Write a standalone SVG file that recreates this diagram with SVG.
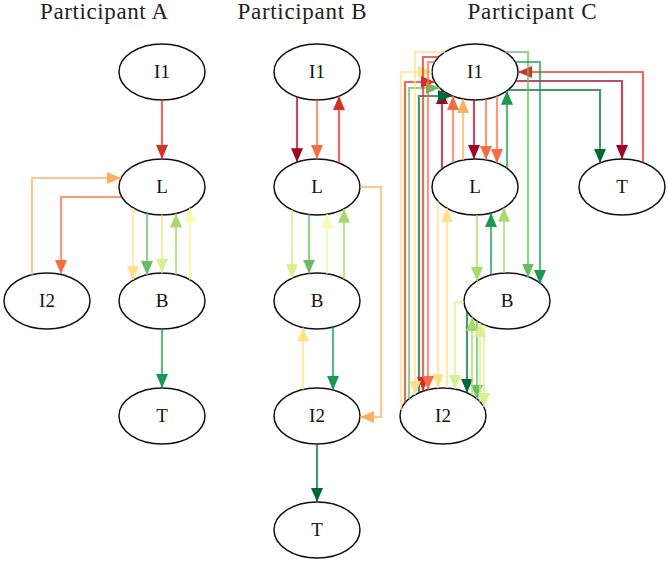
<svg xmlns="http://www.w3.org/2000/svg" width="668" height="564" viewBox="0 0 668 564">
<style>
.t{font-family:"Liberation Serif",serif;font-size:23px;fill:#222;text-anchor:middle}
.n ellipse{fill:#fff;stroke:#111;stroke-width:1.5}
.n text{font-family:"Liberation Serif",serif;font-size:19px;fill:#111;text-anchor:middle}
.e path{fill:none;stroke-width:2.2;stroke-opacity:.7}
.k1{stroke:#a50026;marker-end:url(#m1)}
.k2{stroke:#d73027;marker-end:url(#m2)}
.k3{stroke:#f46d43;marker-end:url(#m3)}
.k4{stroke:#fdae61;marker-end:url(#m4)}
.k5{stroke:#fee08b;marker-end:url(#m5)}
.k6{stroke:#f5f59a;marker-end:url(#m6)}
.k7{stroke:#d9ef8b;marker-end:url(#m7)}
.k8{stroke:#a6d96a;marker-end:url(#m8)}
.k9{stroke:#66bd63;marker-end:url(#m9)}
.k10{stroke:#1a9850;marker-end:url(#m10)}
.k11{stroke:#006837;marker-end:url(#m11)}
</style>
<defs>
<marker id="m1" viewBox="0 0 14 12" refX="14" refY="6" markerWidth="14" markerHeight="12" markerUnits="userSpaceOnUse" orient="auto"><path d="M0,0L14,6L0,12z" fill="#a50026"/></marker>
<marker id="m2" viewBox="0 0 14 12" refX="14" refY="6" markerWidth="14" markerHeight="12" markerUnits="userSpaceOnUse" orient="auto"><path d="M0,0L14,6L0,12z" fill="#d73027"/></marker>
<marker id="m3" viewBox="0 0 14 12" refX="14" refY="6" markerWidth="14" markerHeight="12" markerUnits="userSpaceOnUse" orient="auto"><path d="M0,0L14,6L0,12z" fill="#f46d43"/></marker>
<marker id="m4" viewBox="0 0 14 12" refX="14" refY="6" markerWidth="14" markerHeight="12" markerUnits="userSpaceOnUse" orient="auto"><path d="M0,0L14,6L0,12z" fill="#fdae61"/></marker>
<marker id="m5" viewBox="0 0 14 12" refX="14" refY="6" markerWidth="14" markerHeight="12" markerUnits="userSpaceOnUse" orient="auto"><path d="M0,0L14,6L0,12z" fill="#fee08b"/></marker>
<marker id="m6" viewBox="0 0 14 12" refX="14" refY="6" markerWidth="14" markerHeight="12" markerUnits="userSpaceOnUse" orient="auto"><path d="M0,0L14,6L0,12z" fill="#fbfbb0"/></marker>
<marker id="m7" viewBox="0 0 14 12" refX="14" refY="6" markerWidth="14" markerHeight="12" markerUnits="userSpaceOnUse" orient="auto"><path d="M0,0L14,6L0,12z" fill="#d9ef8b"/></marker>
<marker id="m8" viewBox="0 0 14 12" refX="14" refY="6" markerWidth="14" markerHeight="12" markerUnits="userSpaceOnUse" orient="auto"><path d="M0,0L14,6L0,12z" fill="#a6d96a"/></marker>
<marker id="m9" viewBox="0 0 14 12" refX="14" refY="6" markerWidth="14" markerHeight="12" markerUnits="userSpaceOnUse" orient="auto"><path d="M0,0L14,6L0,12z" fill="#66bd63"/></marker>
<marker id="m10" viewBox="0 0 14 12" refX="14" refY="6" markerWidth="14" markerHeight="12" markerUnits="userSpaceOnUse" orient="auto"><path d="M0,0L14,6L0,12z" fill="#1a9850"/></marker>
<marker id="m11" viewBox="0 0 14 12" refX="14" refY="6" markerWidth="14" markerHeight="12" markerUnits="userSpaceOnUse" orient="auto"><path d="M0,0L14,6L0,12z" fill="#006837"/></marker>
</defs>
<rect width="668" height="564" fill="#fff"/>
<text class="t" x="104" y="19" textLength="128" lengthAdjust="spacing">Participant A</text>
<text class="t" x="302" y="19" textLength="129" lengthAdjust="spacing">Participant B</text>
<text class="t" x="532" y="19" textLength="129" lengthAdjust="spacing">Participant C</text>

<g id="A_I1" class="n"><ellipse cx="162" cy="72" rx="43" ry="28"/><text x="162" y="78">I1</text></g>
<g id="A_L" class="n"><ellipse cx="162" cy="187" rx="43" ry="28"/><text x="162" y="193">L</text></g>
<g id="A_I2" class="n"><ellipse cx="47" cy="301" rx="43" ry="28"/><text x="47" y="307">I2</text></g>
<g id="A_B" class="n"><ellipse cx="162" cy="301" rx="43" ry="28"/><text x="162" y="307">B</text></g>
<g id="A_T" class="n"><ellipse cx="162" cy="416" rx="43" ry="28"/><text x="162" y="422">T</text></g>

<g id="B_I1" class="n"><ellipse cx="317" cy="72" rx="43" ry="28"/><text x="317" y="78">I1</text></g>
<g id="B_L" class="n"><ellipse cx="317" cy="187" rx="43" ry="28"/><text x="317" y="193">L</text></g>
<g id="B_B" class="n"><ellipse cx="317" cy="301" rx="43" ry="28"/><text x="317" y="307">B</text></g>
<g id="B_I2" class="n"><ellipse cx="317" cy="416" rx="43" ry="28"/><text x="317" y="422">I2</text></g>
<g id="B_T" class="n"><ellipse cx="317" cy="530" rx="43" ry="28"/><text x="317" y="536">T</text></g>

<g id="C_I1" class="n"><ellipse cx="475" cy="72" rx="43" ry="28"/><text x="475" y="78">I1</text></g>
<g id="C_L" class="n"><ellipse cx="475" cy="187" rx="43" ry="28"/><text x="475" y="193">L</text></g>
<g id="C_T" class="n"><ellipse cx="622" cy="187" rx="43" ry="28"/><text x="622" y="193">T</text></g>
<g id="C_B" class="n"><ellipse cx="507" cy="301" rx="43" ry="28"/><text x="507" y="307">B</text></g>
<g id="C_I2" class="n"><ellipse cx="443" cy="416" rx="43" ry="28"/><text x="443" y="422">I2</text></g>

<g id="connectors" class="e">
<!-- Participant A -->
<path class="k2" d="M162,100V159"/>
<path class="k4" d="M32,275V178H121"/>
<path class="k3" d="M121,197H61V274"/>
<path class="k5" d="M133,208V280"/>
<path class="k9" d="M147,213V275"/>
<path class="k7" d="M162,215V273"/>
<path class="k8" d="M176,274.5V213.5"/>
<path class="k6" d="M190,279.7V208.3"/>
<path class="k10" d="M162,329V388"/>
<!-- Participant B -->
<path class="k1" d="M297,96.8V162.2"/>
<path class="k3" d="M317,100V159"/>
<path class="k2" d="M339,162.9V96.1"/>
<path class="k7" d="M292,209.8V278.2"/>
<path class="k9" d="M309,214.5V273.5"/>
<path class="k6" d="M327,273.8V214.2"/>
<path class="k8" d="M344,279.2V208.8"/>
<path class="k4" d="M360,187H381V417H360"/>
<path class="k5" d="M303,389.5V327.5"/>
<path class="k10" d="M333,327V390"/>
<path class="k11" d="M317,444V502"/>
<!-- Participant C -->
<path class="k1" d="M474,100V159"/>
<path class="k3" d="M486,99.1V159.9"/>
<path class="k3" d="M497,96.1V162.9"/>
<path class="k1" d="M442,169.1V89.9"/>
<path class="k3" d="M453,162.9V96.1"/>
<path class="k4" d="M463,160.1V98.9"/>
<path class="k10" d="M507,168.3V90.7"/>
<path class="k8" d="M477,215V281"/>
<path class="k10" d="M491,275V213"/>
<path class="k8" d="M504,273V207.7"/>
<path class="k5" d="M447,388V208.3"/>
<path class="k5" d="M438,201.3V388.2"/>
<path class="k1" d="M515.7,81H622V159"/>
<path class="k11" d="M508,90H600V162.9"/>
<path class="k2" d="M643,162.6V72H518"/>
<path class="k9" d="M505,52H528V277.6"/>
<path class="k10" d="M515,62H540V284"/>
<path class="k7" d="M464,302H455V389"/>
<path class="k11" d="M467,311.3V392.8"/>
<path class="k9" d="M477,321V399"/>
<path class="k7" d="M484,324.7V407"/>
<path class="k8" d="M472,395.3V317.3"/>
<path class="k7" d="M480,401.7V322.8"/>
<path class="k5" d="M401,410V72H432"/>
<path class="k2" d="M405,403V82H434.8"/>
<path class="k9" d="M409,399V88H439.7"/>
<path class="k11" d="M419,392.8V96H452"/>
<path class="k2" d="M438.7,57H423V391"/>
<path class="k3" d="M434.8,62H428V389.8"/>
<path class="k5" d="M445,52H415V394.7"/>
</g>
</svg>
